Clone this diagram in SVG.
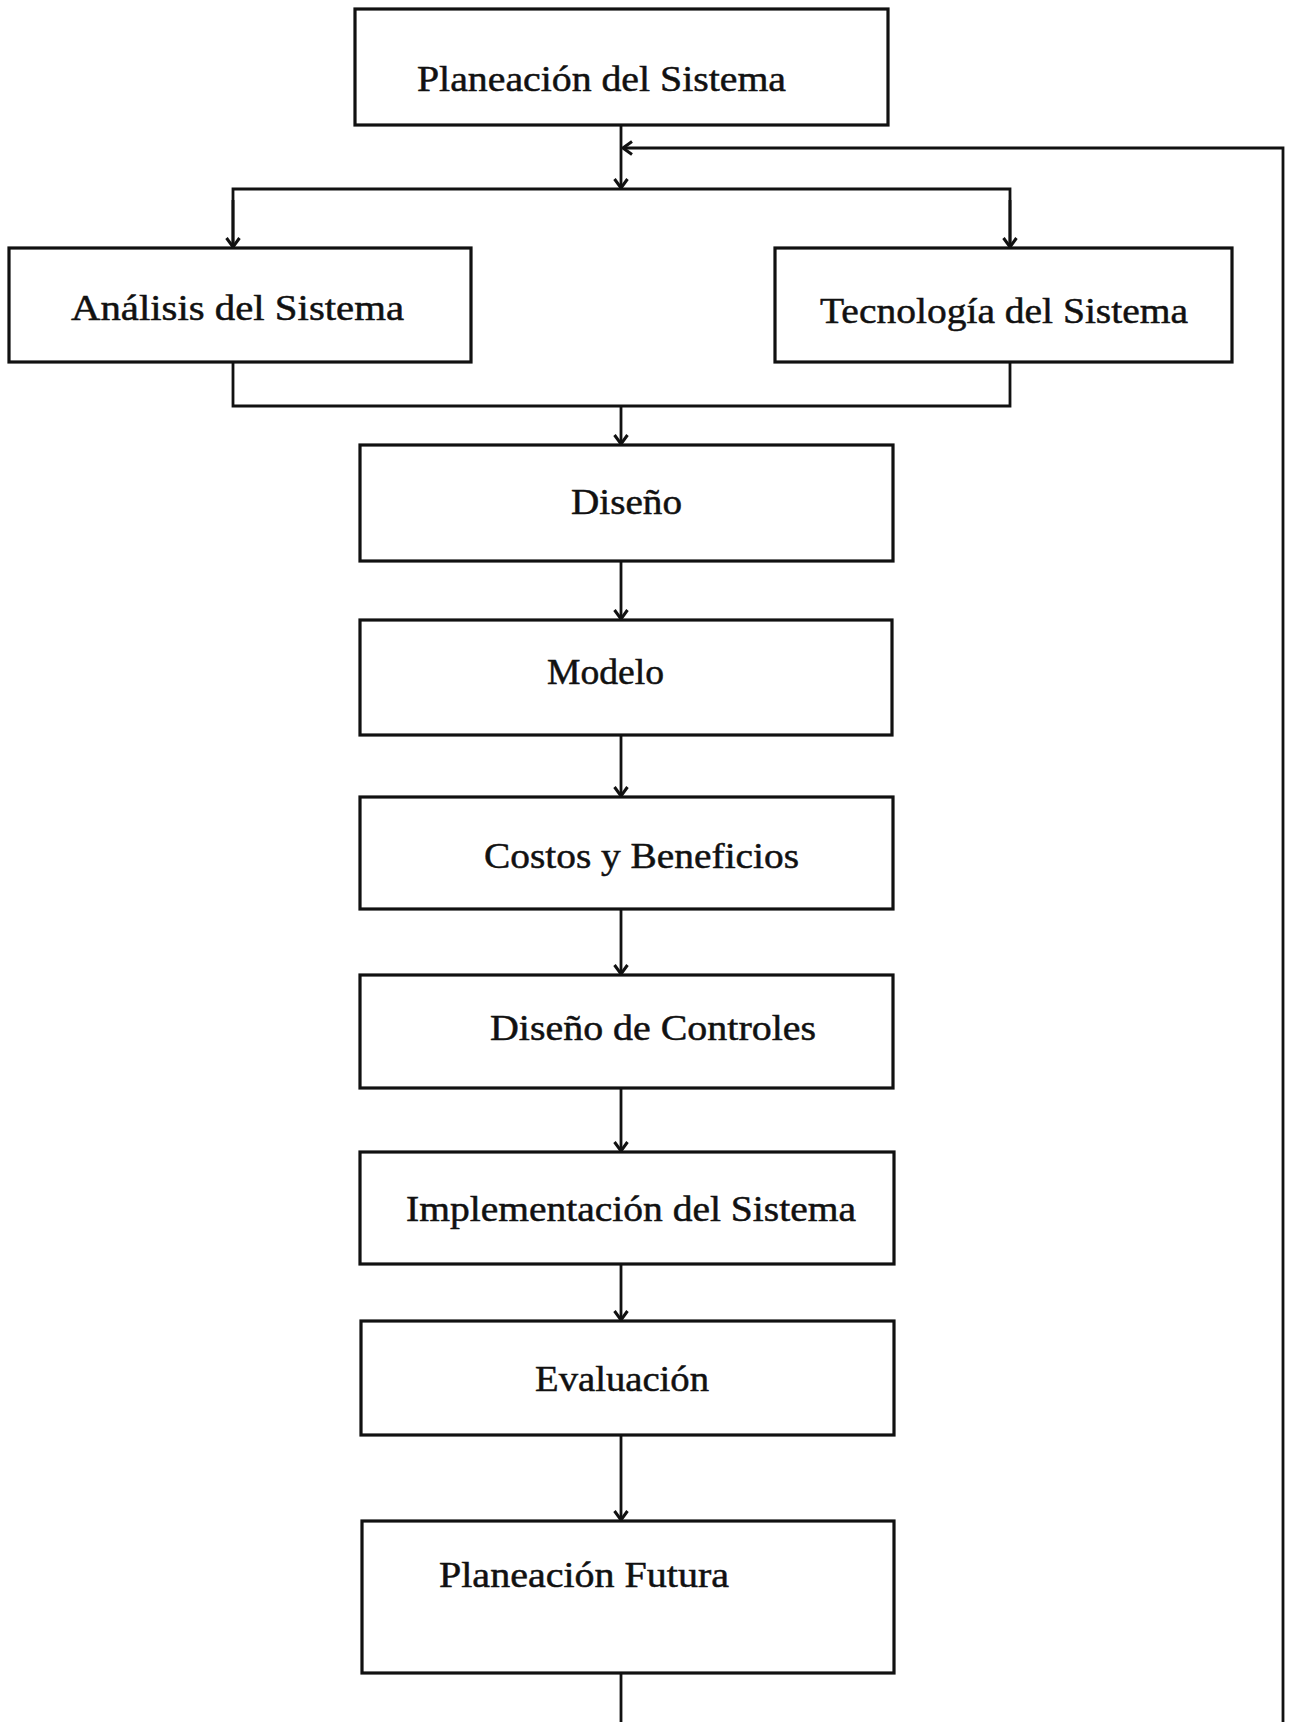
<svg xmlns="http://www.w3.org/2000/svg" width="1298" height="1722" viewBox="0 0 1298 1722">
  <style>
    .box { fill: #ffffff; stroke: #111111; stroke-width: 3.2; }
    .wire { fill: none; stroke: #111111; stroke-width: 2.8; }
    .label { font-family: "Liberation Serif", "Times New Roman", serif; font-size: 36px; fill: #111111; stroke: #111111; stroke-width: 0.5; }
  </style>
  <defs>
    <!-- chevron arrowhead; +x points along the line direction -->
    <marker id="head" viewBox="-12 -9 14 18" refX="0" refY="0" markerWidth="14" markerHeight="18" markerUnits="userSpaceOnUse" orient="auto">
      <path d="M-9,-6.5 L0,0 L-9,6.5" fill="none" stroke="#111111" stroke-width="3" stroke-linejoin="miter"/>
    </marker>
  </defs>
  <rect width="1298" height="1722" fill="#ffffff"/>

  <!-- connectors -->
  <g id="connectors">
    <!-- planning box down to the split bar -->
    <line class="wire" x1="621" y1="125" x2="621" y2="188" marker-end="url(#head)"/>
    <!-- feedback loop returning from the right edge -->
    <polyline class="wire" points="1283,1722 1283,148 623,148" marker-end="url(#head)"/>
    <!-- split bar feeding the two parallel tasks -->
    <polyline class="wire" points="233,248 233,189 1010,189 1010,248"/>
    <line class="wire" x1="233" y1="200" x2="233" y2="247" marker-end="url(#head)"/>
    <line class="wire" x1="1010" y1="200" x2="1010" y2="247" marker-end="url(#head)"/>
    <!-- join bar after the two parallel tasks -->
    <polyline class="wire" points="233,362 233,406 1010,406 1010,362"/>
    <line class="wire" x1="621" y1="406" x2="621" y2="444" marker-end="url(#head)"/>
    <!-- main chain -->
    <line class="wire" x1="621" y1="561" x2="621" y2="619" marker-end="url(#head)"/>
    <line class="wire" x1="621" y1="735" x2="621" y2="796" marker-end="url(#head)"/>
    <line class="wire" x1="621" y1="909" x2="621" y2="974" marker-end="url(#head)"/>
    <line class="wire" x1="621" y1="1088" x2="621" y2="1151" marker-end="url(#head)"/>
    <line class="wire" x1="621" y1="1264" x2="621" y2="1320" marker-end="url(#head)"/>
    <line class="wire" x1="621" y1="1435" x2="621" y2="1520" marker-end="url(#head)"/>
    <line class="wire" x1="621" y1="1673" x2="621" y2="1722"/>
  </g>

  <g id="planeacion-sistema">
    <rect class="box" x="355" y="9" width="533" height="116"/>
    <text class="label" x="417" y="91" textLength="369" lengthAdjust="spacingAndGlyphs">Planeación del Sistema</text>
  </g>

  <g id="analisis-sistema">
    <rect class="box" x="9" y="248" width="462" height="114"/>
    <text class="label" x="71" y="320" textLength="333" lengthAdjust="spacingAndGlyphs">Análisis del Sistema</text>
  </g>

  <g id="tecnologia-sistema">
    <rect class="box" x="775" y="248" width="457" height="114"/>
    <text class="label" x="820" y="323" textLength="368" lengthAdjust="spacingAndGlyphs">Tecnología del Sistema</text>
  </g>

  <g id="diseno">
    <rect class="box" x="360" y="445" width="533" height="116"/>
    <text class="label" x="571" y="514" textLength="111" lengthAdjust="spacingAndGlyphs">Diseño</text>
  </g>

  <g id="modelo">
    <rect class="box" x="360" y="620" width="532" height="115"/>
    <text class="label" x="547" y="684" textLength="117" lengthAdjust="spacingAndGlyphs">Modelo</text>
  </g>

  <g id="costos-beneficios">
    <rect class="box" x="360" y="797" width="533" height="112"/>
    <text class="label" x="484" y="868" textLength="315" lengthAdjust="spacingAndGlyphs">Costos y Beneficios</text>
  </g>

  <g id="diseno-controles">
    <rect class="box" x="360" y="975" width="533" height="113"/>
    <text class="label" x="490" y="1040" textLength="326" lengthAdjust="spacingAndGlyphs">Diseño de Controles</text>
  </g>

  <g id="implementacion-sistema">
    <rect class="box" x="360" y="1152" width="534" height="112"/>
    <text class="label" x="406" y="1221" textLength="450" lengthAdjust="spacingAndGlyphs">Implementación del Sistema</text>
  </g>

  <g id="evaluacion">
    <rect class="box" x="361" y="1321" width="533" height="114"/>
    <text class="label" x="535" y="1391" textLength="174" lengthAdjust="spacingAndGlyphs">Evaluación</text>
  </g>

  <g id="planeacion-futura">
    <rect class="box" x="362" y="1521" width="532" height="152"/>
    <text class="label" x="439" y="1587" textLength="290" lengthAdjust="spacingAndGlyphs">Planeación Futura</text>
  </g>
</svg>
